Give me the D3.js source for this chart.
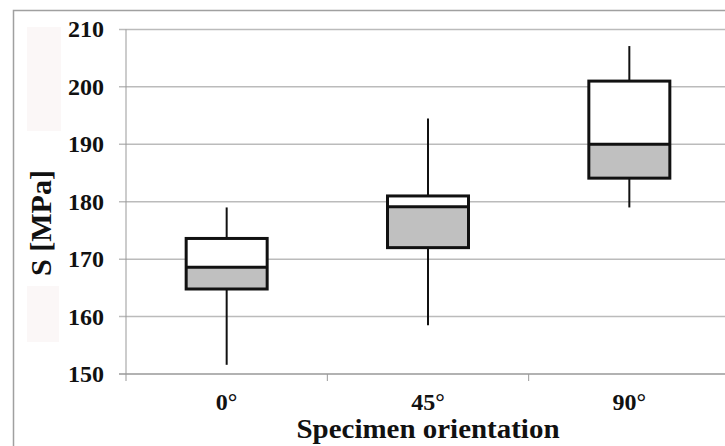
<!DOCTYPE html>
<html>
<head>
<meta charset="utf-8">
<script src="https://cdn.jsdelivr.net/npm/d3@7"></script>
<style>
  body { margin: 0; background: #fff; }
  text { font-family: "Liberation Serif", "Times New Roman", serif; font-weight: bold; fill: #111; }
</style>
</head>
<body>
<div id="chart"></div>
<script>
// data
const categories = ["0°", "45°", "90°"];
const whiskerMin = [151.6, 158.5, 179.0];
const q1 = [164.8, 172.0, 184.1];
const median = [168.6, 179.1, 190.0];
const q3 = [173.6, 181.0, 201.0];
const whiskerMax = [179.0, 194.5, 207.1];
const yTicks = [150, 160, 170, 180, 190, 200, 210];

const W = 725, H = 446;
const plot = { left: 126, right: 730, top: 29.4, bottom: 374 };

const svg = d3.select("#chart")
  .append("svg")
  .attr("width", W)
  .attr("height", H);

// outer frame
svg.append("rect")
  .attr("x", 13.5).attr("y", 10.5)
  .attr("width", W).attr("height", H)
  .attr("fill", "#fff")
  .attr("stroke", "#a0a0a0")
  .attr("stroke-width", 1.5);

// faint patches behind axis title (scan artefacts)
svg.append("rect").attr("x", 27).attr("y", 27).attr("width", 34).attr("height", 104).attr("fill", "#fbf7f7");
svg.append("rect").attr("x", 27).attr("y", 286).attr("width", 32).attr("height", 56).attr("fill", "#fbf7f7");

const x = d3.scaleBand()
  .domain(categories)
  .range([plot.left, plot.right]);

const y = d3.scaleLinear()
  .domain([150, 210])
  .range([plot.bottom, plot.top]);

// gridlines
svg.append("g")
  .selectAll("line")
  .data(yTicks)
  .enter()
  .append("line")
  .attr("x1", plot.left - 7)
  .attr("x2", W)
  .attr("y1", d => y(d))
  .attr("y2", d => y(d))
  .attr("stroke", d => d === 150 ? "#999" : "#bbb")
  .attr("stroke-width", 1.5);

// y axis line
svg.append("line")
  .attr("x1", plot.left).attr("x2", plot.left)
  .attr("y1", plot.top).attr("y2", plot.bottom + 7)
  .attr("stroke", "#999")
  .attr("stroke-width", 1);

// y tick labels
svg.append("g")
  .selectAll("text")
  .data(yTicks)
  .enter()
  .append("text")
  .attr("x", 104)
  .attr("y", d => y(d) + 8)
  .attr("text-anchor", "end")
  .style("font-size", "24px")
  .text(d => d);

// category ticks between bands
svg.append("g")
  .selectAll("line")
  .data(categories.slice(1))
  .enter()
  .append("line")
  .attr("x1", d => x(d))
  .attr("x2", d => x(d))
  .attr("y1", plot.bottom)
  .attr("y2", plot.bottom + 7)
  .attr("stroke", "#999")
  .attr("stroke-width", 1);

// category labels
svg.append("g")
  .selectAll("text")
  .data(categories)
  .enter()
  .append("text")
  .attr("x", d => x(d) + x.bandwidth() / 2)
  .attr("y", 410)
  .attr("text-anchor", "middle")
  .style("font-size", "24px")
  .text(d => d);

// boxes
const boxW = 81;
const boxes = svg.append("g")
  .selectAll("g")
  .data(categories)
  .enter()
  .append("g");

const cx = d => x(d) + x.bandwidth() / 2;

boxes.append("line")
  .attr("x1", cx).attr("x2", cx)
  .attr("y1", (d, i) => y(whiskerMax[i]))
  .attr("y2", (d, i) => y(q3[i]))
  .attr("stroke", "#111").attr("stroke-width", 2);

boxes.append("line")
  .attr("x1", cx).attr("x2", cx)
  .attr("y1", (d, i) => y(q1[i]))
  .attr("y2", (d, i) => y(whiskerMin[i]))
  .attr("stroke", "#111").attr("stroke-width", 2);

// upper half (median to q3) white
boxes.append("rect")
  .attr("x", d => cx(d) - boxW / 2)
  .attr("y", (d, i) => y(q3[i]))
  .attr("width", boxW)
  .attr("height", (d, i) => y(median[i]) - y(q3[i]))
  .attr("fill", "#fff");

// lower half (q1 to median) grey
boxes.append("rect")
  .attr("x", d => cx(d) - boxW / 2)
  .attr("y", (d, i) => y(median[i]))
  .attr("width", boxW)
  .attr("height", (d, i) => y(q1[i]) - y(median[i]))
  .attr("fill", "#c0c0c0");

// outline
boxes.append("rect")
  .attr("x", d => cx(d) - boxW / 2)
  .attr("y", (d, i) => y(q3[i]))
  .attr("width", boxW)
  .attr("height", (d, i) => y(q1[i]) - y(q3[i]))
  .attr("fill", "none")
  .attr("stroke", "#111")
  .attr("stroke-width", 3);

boxes.append("line")
  .attr("x1", d => cx(d) - boxW / 2)
  .attr("x2", d => cx(d) + boxW / 2)
  .attr("y1", (d, i) => y(median[i]))
  .attr("y2", (d, i) => y(median[i]))
  .attr("stroke", "#111")
  .attr("stroke-width", 3);

// axis titles
svg.append("text")
  .attr("x", 428)
  .attr("y", 438)
  .attr("text-anchor", "middle")
  .attr("textLength", 263)
  .attr("lengthAdjust", "spacingAndGlyphs")
  .style("font-size", "27px")
  .text("Specimen orientation");

svg.append("text")
  .attr("transform", "translate(51,223) rotate(-90)")
  .attr("text-anchor", "middle")
  .style("font-size", "30px")
  .text("S [MPa]");
</script>
</body>
</html>
